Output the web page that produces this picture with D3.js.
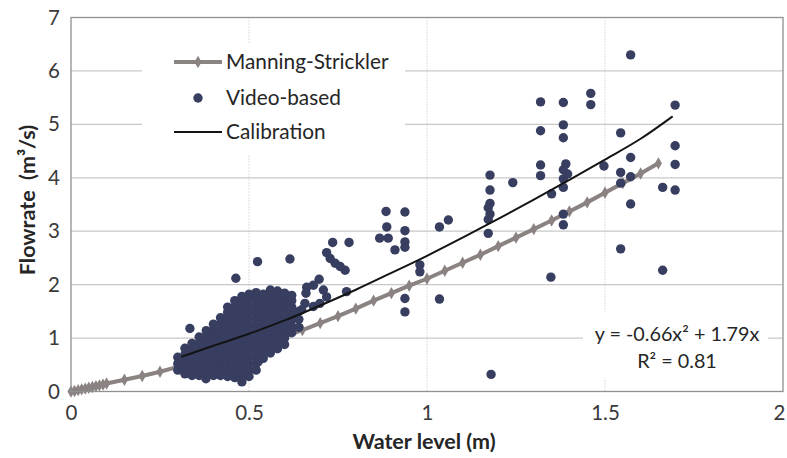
<!DOCTYPE html>
<html>
<head>
<meta charset="utf-8">
<script src="https://cdnjs.cloudflare.com/ajax/libs/d3/7.8.5/d3.min.js"></script>
<style>
  body { margin: 0; background: #ffffff; }
  svg { display: block; font-family: Lato, "Open Sans", sans-serif; }
</style>
</head>
<body>
<div id="wrapper"></div>
<script>
// Manning-Strickler curve (water level m, flowrate m3/s)
const manningX = [0, 0.01, 0.02, 0.03, 0.04, 0.05, 0.06, 0.07, 0.08, 0.09, 0.1,
  0.15, 0.2, 0.25, 0.3, 0.35, 0.4, 0.45, 0.5, 0.55, 0.6, 0.65, 0.7, 0.75, 0.8,
  0.85, 0.9, 0.95, 1.0, 1.05, 1.1, 1.15, 1.2, 1.25, 1.3, 1.35, 1.4, 1.45, 1.5,
  1.55, 1.6, 1.65];
const manningY = [0, 0.01, 0.025, 0.04, 0.055, 0.07, 0.085, 0.1, 0.115, 0.13, 0.15,
  0.22, 0.29, 0.37, 0.46, 0.55, 0.64, 0.73, 0.83, 0.93, 1.03, 1.15, 1.28, 1.41, 1.55,
  1.70, 1.84, 1.98, 2.11, 2.26, 2.41, 2.56, 2.72, 2.88, 3.04, 3.2, 3.37, 3.54, 3.72,
  3.9, 4.08, 4.27];

// Calibration curve
const calibX = [0.31, 0.4, 0.5, 0.6, 0.7, 0.8, 0.9, 1.0, 1.1, 1.2, 1.3, 1.4, 1.5, 1.6, 1.69];
const calibY = [0.65, 0.855, 1.08, 1.33, 1.61, 1.905, 2.22, 2.54, 2.88, 3.23, 3.59, 3.96, 4.34, 4.73, 5.15];

// Video-based measurements: dense cluster, by water level column
const clusterColumns = [
  [0.30, [0.40, 0.52, 0.64]],
  [0.32, [0.33, 0.45, 0.57, 0.69, 0.81]],
  [0.34, [0.30, 0.42, 0.54, 0.66, 0.78, 0.90]],
  [0.36, [0.30, 0.42, 0.54, 0.66, 0.78, 0.90, 1.02]],
  [0.38, [0.32, 0.44, 0.56, 0.68, 0.80, 0.92, 1.04, 1.14]],
  [0.40, [0.30, 0.42, 0.54, 0.66, 0.78, 0.90, 1.02, 1.14, 1.26]],
  [0.42, [0.30, 0.42, 0.54, 0.66, 0.78, 0.90, 1.02, 1.14, 1.26, 1.38]],
  [0.44, [0.28, 0.40, 0.52, 0.64, 0.76, 0.88, 1.00, 1.12, 1.24, 1.36, 1.48, 1.58]],
  [0.46, [0.26, 0.38, 0.50, 0.62, 0.74, 0.86, 0.98, 1.10, 1.22, 1.34, 1.46, 1.58, 1.70]],
  [0.48, [0.24, 0.36, 0.48, 0.60, 0.72, 0.84, 0.96, 1.08, 1.20, 1.32, 1.44, 1.56, 1.68, 1.78]],
  [0.50, [0.28, 0.40, 0.52, 0.64, 0.76, 0.88, 1.00, 1.12, 1.24, 1.36, 1.48, 1.60, 1.72, 1.82]],
  [0.52, [0.40, 0.52, 0.64, 0.76, 0.88, 1.00, 1.12, 1.24, 1.36, 1.48, 1.60, 1.72, 1.85]],
  [0.54, [0.62, 0.74, 0.86, 0.98, 1.10, 1.22, 1.34, 1.46, 1.58, 1.70, 1.82]],
  [0.56, [0.72, 0.84, 0.96, 1.08, 1.20, 1.32, 1.44, 1.56, 1.68, 1.80, 1.90]],
  [0.58, [0.80, 0.92, 1.04, 1.16, 1.28, 1.40, 1.52, 1.64, 1.76, 1.88]],
  [0.60, [0.88, 1.00, 1.12, 1.24, 1.36, 1.48, 1.60, 1.72, 1.84]],
  [0.62, [1.10, 1.22, 1.34, 1.46, 1.58, 1.70, 1.80]],
  [0.64, [1.20, 1.35, 1.50]]
];

// Video-based measurements: scattered points
const scatterPoints = [
  [1.572, 6.30], [1.383, 5.41], [1.46, 5.58], [1.46, 5.37], [1.697, 5.36],
  [1.319, 5.42], [1.319, 4.88], [1.383, 4.99], [1.383, 4.75], [1.544, 4.84],
  [1.697, 4.60], [1.319, 4.24], [1.319, 4.04], [1.39, 4.26], [1.383, 4.15],
  [1.395, 4.07], [1.383, 3.98], [1.383, 3.82], [1.497, 4.22], [1.572, 4.38],
  [1.697, 4.25], [1.544, 4.10], [1.572, 4.02], [1.544, 3.90], [1.662, 3.82],
  [1.697, 3.77], [1.572, 3.51], [1.383, 3.32], [1.383, 3.12], [1.35, 3.70],
  [1.348, 2.14], [1.544, 2.67], [1.662, 2.27], [1.241, 3.91], [1.177, 4.05],
  [1.177, 3.77], [1.177, 3.52], [1.172, 3.44], [1.177, 3.32], [1.172, 3.22],
  [1.172, 2.96], [1.18, 0.32], [1.035, 3.08], [1.06, 3.21], [1.035, 1.73],
  [0.98, 2.37], [0.98, 2.24], [0.938, 3.36], [0.938, 3.01], [0.938, 2.80],
  [0.938, 2.70], [0.938, 1.74], [0.938, 1.49], [0.885, 3.37], [0.887, 3.08],
  [0.891, 2.87], [0.867, 2.87], [0.91, 2.65], [0.735, 2.79], [0.781, 2.79],
  [0.615, 2.48], [0.718, 2.60], [0.728, 2.49], [0.742, 2.40], [0.756, 2.34],
  [0.77, 2.27], [0.697, 2.10], [0.681, 1.99], [0.662, 1.95], [0.66, 1.84],
  [0.709, 1.90], [0.718, 1.77], [0.699, 1.65], [0.681, 1.59], [0.657, 1.65],
  [0.648, 1.53], [0.774, 1.87], [0.524, 2.43], [0.463, 2.12], [0.334, 1.18],
  [0.379, 0.24], [0.48, 0.18], [0.536, 0.65], [0.526, 0.56]
];

const xTicks = [0, 0.5, 1, 1.5, 2];
const yTicks = [0, 1, 2, 3, 4, 5, 6, 7];
const legendLabels = ["Manning-Strickler", "Video-based", "Calibration"];
const equationLines = ["y = -0.66x\u00b2 + 1.79x", "R\u00b2 = 0.81"];

function drawChart() {
  // 1. Data
  const manning = manningX.map((x, i) => ({ x, y: manningY[i] }));
  const calibration = calibX.map((x, i) => ({ x, y: calibY[i] }));
  const video = [
    ...clusterColumns.flatMap(([x, ys]) => ys.map(y => ({ x, y }))),
    ...scatterPoints.map(([x, y]) => ({ x, y }))
  ];
  const xAccessor = d => d.x;
  const yAccessor = d => d.y;

  // 2. Dimensions
  let dimensions = {
    width: 787,
    height: 458,
    margin: { top: 17.5, right: 4, bottom: 66.5, left: 71 }
  };
  dimensions.boundedWidth =
    dimensions.width - dimensions.margin.left - dimensions.margin.right;
  dimensions.boundedHeight =
    dimensions.height - dimensions.margin.top - dimensions.margin.bottom;

  // 3. Canvas
  const wrapper = d3.select("#wrapper")
    .append("svg")
    .attr("width", dimensions.width)
    .attr("height", dimensions.height);

  wrapper.append("rect")
    .attr("width", dimensions.width)
    .attr("height", dimensions.height)
    .attr("fill", "#ffffff");

  const bounds = wrapper.append("g")
    .attr("transform", `translate(${dimensions.margin.left},${dimensions.margin.top})`);

  // 4. Scales
  const xScale = d3.scaleLinear().domain([0, 2]).range([0, dimensions.boundedWidth]);
  const yScale = d3.scaleLinear().domain([0, 7]).range([dimensions.boundedHeight, 0]);

  // 5. Grid
  const grid = bounds.append("g");
  grid.selectAll(".hgrid")
    .data(yTicks.filter(t => t > 0 && t < 7))
    .join("line")
    .attr("x1", 0)
    .attr("x2", dimensions.boundedWidth)
    .attr("y1", d => yScale(d))
    .attr("y2", d => yScale(d))
    .attr("stroke", "#c8c8c8")
    .attr("stroke-width", 1.2);
  grid.selectAll(".vgrid")
    .data(xTicks.filter(t => t > 0 && t < 2))
    .join("line")
    .attr("x1", d => xScale(d))
    .attr("x2", d => xScale(d))
    .attr("y1", 0)
    .attr("y2", dimensions.boundedHeight)
    .attr("stroke", "#bdbdbd")
    .attr("stroke-width", 1)
    .attr("stroke-dasharray", "1,2");

  // white boxes behind legend and equation
  wrapper.append("rect")
    .attr("x", 142).attr("y", 43)
    .attr("width", 263).attr("height", 112)
    .attr("fill", "#ffffff");
  wrapper.append("rect")
    .attr("x", 583).attr("y", 312)
    .attr("width", 185).attr("height", 66)
    .attr("fill", "#ffffff");

  // 6. Series
  const manningColor = "#8b8282";
  const dotColor = "#383e60";

  const lineGenerator = d3.line()
    .x(d => xScale(xAccessor(d)))
    .y(d => yScale(yAccessor(d)));

  bounds.append("path")
    .datum(manning)
    .attr("d", lineGenerator)
    .attr("fill", "none")
    .attr("stroke", manningColor)
    .attr("stroke-width", 4);

  const diamond = d3.symbol().type(d3.symbolDiamond).size(44);
  bounds.selectAll(".manning-marker")
    .data(manning)
    .join("path")
    .attr("class", "manning-marker")
    .attr("d", diamond)
    .attr("transform", d => `translate(${xScale(xAccessor(d))},${yScale(yAccessor(d))})`)
    .attr("fill", manningColor);

  bounds.selectAll(".dot")
    .data(video)
    .join("circle")
    .attr("class", "dot")
    .attr("cx", d => xScale(xAccessor(d)))
    .attr("cy", d => yScale(yAccessor(d)))
    .attr("r", 4.7)
    .attr("fill", dotColor);

  bounds.append("path")
    .datum(calibration)
    .attr("d", lineGenerator.curve(d3.curveMonotoneX))
    .attr("fill", "none")
    .attr("stroke", "#141414")
    .attr("stroke-width", 2);

  // 7. Frame and axes
  bounds.append("rect")
    .attr("width", dimensions.boundedWidth)
    .attr("height", dimensions.boundedHeight)
    .attr("fill", "none")
    .attr("stroke", "#909090")
    .attr("stroke-width", 1.3);

  const xAxisGenerator = d3.axisBottom(xScale)
    .tickValues(xTicks)
    .tickFormat(d3.format("~g"))
    .tickSize(0)
    .tickPadding(14);
  const xAxis = bounds.append("g")
    .attr("transform", `translate(0,${dimensions.boundedHeight})`)
    .call(xAxisGenerator);

  const yAxisGenerator = d3.axisLeft(yScale)
    .tickValues(yTicks)
    .tickFormat(d3.format("~g"))
    .tickSize(0)
    .tickPadding(11);
  const yAxis = bounds.append("g").call(yAxisGenerator);

  [xAxis, yAxis].forEach(axis => {
    axis.select(".domain").remove();
    axis.selectAll("text")
      .attr("font-family", "Lato, sans-serif")
      .attr("font-size", 20.5)
      .attr("fill", "#3a3a3a");
  });
  // last x label sits against the right edge of the window
  xAxis.selectAll(".tick text")
    .filter(d => d === 2)
    .attr("dx", -4);

  wrapper.append("text")
    .attr("x", 424)
    .attr("y", 449)
    .attr("text-anchor", "middle")
    .attr("font-size", 21.5)
    .attr("font-weight", "bold")
    .attr("fill", "#262626")
    .text("Water level (m)");

  wrapper.append("text")
    .attr("transform", "translate(35,200) rotate(-90)")
    .attr("text-anchor", "middle")
    .attr("font-size", 21.5)
    .attr("font-weight", "bold")
    .attr("fill", "#262626")
    .attr("xml:space", "preserve")
    .text("Flowrate  (m\u00b3/s)");

  // 8. Legend
  const legend = wrapper.append("g");
  const legendY = [62, 98, 132];
  const legendItems = legend.selectAll("g")
    .data(legendLabels)
    .join("g")
    .attr("transform", (d, i) => `translate(0,${legendY[i]})`);

  legendItems.append("text")
    .attr("x", 226)
    .attr("dy", "0.35em")
    .attr("font-size", 20.8)
    .attr("fill", "#262626")
    .text(d => d);

  legendItems.filter((d, i) => i === 0).call(g => {
    g.append("line")
      .attr("x1", 174).attr("x2", 222)
      .attr("stroke", manningColor).attr("stroke-width", 4);
    g.append("path")
      .attr("d", diamond)
      .attr("transform", "translate(198,0)")
      .attr("fill", manningColor);
  });
  legendItems.filter((d, i) => i === 1)
    .append("circle")
    .attr("cx", 198).attr("r", 4.7)
    .attr("fill", dotColor);
  legendItems.filter((d, i) => i === 2)
    .append("line")
    .attr("x1", 174).attr("x2", 222)
    .attr("stroke", "#141414").attr("stroke-width", 2);

  // 9. Equation
  wrapper.selectAll(".equation")
    .data(equationLines)
    .join("text")
    .attr("class", "equation")
    .attr("x", 677)
    .attr("y", (d, i) => 341 + i * 27)
    .attr("text-anchor", "middle")
    .attr("font-size", 19.8)
    .attr("fill", "#262626")
    .text(d => d);
}
drawChart();
</script>
</body>
</html>
